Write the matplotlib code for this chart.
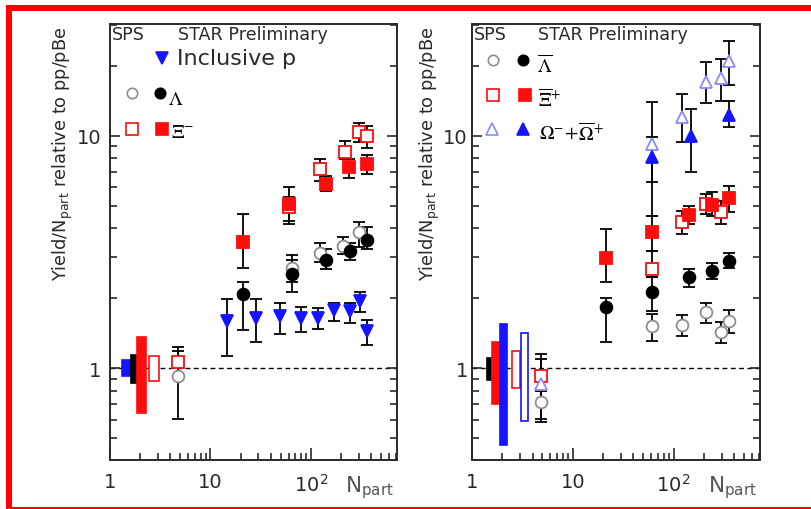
import numpy as np
import matplotlib
matplotlib.use("Agg")
import matplotlib.pyplot as plt
from matplotlib.patches import Rectangle
from matplotlib.lines import Line2D
from matplotlib.ticker import LogLocator, NullFormatter

# ---------------- data: left panel (SPS + STAR, p / Lambda / Xi-) ----------------
p_npart = [14.5, 28.2, 49.2, 79, 118, 171, 244, 307, 366]
p_yield = [1.60, 1.65, 1.67, 1.65, 1.65, 1.78, 1.76, 1.95, 1.45]
p_lo = [1.13, 1.29, 1.40, 1.43, 1.47, 1.60, 1.57, 1.74, 1.26]
p_hi = [1.98, 1.98, 1.90, 1.83, 1.81, 1.90, 1.90, 2.13, 1.61]

lam_f_npart = [21.2, 64.3, 143, 244, 362]
lam_f_yield = [2.08, 2.54, 2.92, 3.20, 3.57]
lam_f_lo = [1.46, 2.12, 2.67, 2.91, 3.25]
lam_f_hi = [2.34, 2.92, 3.25, 3.45, 4.05]

lam_o_npart = [4.8, 64.3, 123, 210, 300]
lam_o_yield = [0.926, 2.71, 3.13, 3.36, 3.87]
lam_o_lo = [0.603, 2.34, 2.85, 3.10, 3.32]
lam_o_hi = [1.19, 3.07, 3.45, 3.65, 4.26]

xi_f_npart = [21.2, 61.1, 143, 240, 362]
xi_f_yield = [3.48, 5.08, 6.23, 7.36, 7.6]
xi_f_lo = [2.69, 4.28, 5.76, 6.55, 6.84]
xi_f_hi = [4.60, 6.05, 6.72, 7.94, 8.29]

xi_o_npart = [4.8, 61.1, 123, 218, 303, 358]
xi_o_yield = [1.06, 4.92, 7.19, 8.53, 10.4, 10.0]
xi_o_lo = [0.912, 4.17, 6.40, 7.94, 9.38, 8.83]
xi_o_hi = [1.228, 5.43, 7.94, 9.46, 11.4, 11.0]

# normalisation uncertainty boxes (left): N from, N to, yield low, yield high
boxL_n0 = [1.31, 1.61, 1.87, 2.46]
boxL_n1 = [1.61, 1.85, 2.27, 3.09]
boxL_lo = [0.921, 0.862, 0.64, 0.88]
boxL_hi = [1.086, 1.137, 1.355, 1.13]

# ---------------- data: right panel (anti-Lambda / anti-Xi+ / Omega) ----------------
alam_f_npart = [21.3, 61.7, 143, 238, 351]
alam_f_yield = [1.84, 2.12, 2.46, 2.62, 2.90]
alam_f_lo = [1.29, 1.765, 2.225, 2.42, 2.69]
alam_f_hi = [1.995, 2.46, 2.67, 2.83, 3.13]

alam_o_npart = [4.81, 61.7, 122.5, 209, 295, 351]
alam_o_yield = [0.711, 1.52, 1.54, 1.74, 1.43, 1.60]
alam_o_lo = [0.584, 1.31, 1.377, 1.56, 1.277, 1.415]
alam_o_hi = [0.80, 1.71, 1.69, 1.905, 1.573, 1.78]

axi_f_npart = [21.3, 61.7, 143, 238, 351]
axi_f_yield = [2.98, 3.86, 4.57, 5.05, 5.39]
axi_f_lo = [2.35, 3.20, 4.17, 4.50, 4.72]
axi_f_hi = [3.97, 4.50, 4.97, 5.71, 6.09]

axi_o_npart = [4.81, 61.7, 122.5, 209, 295]
axi_o_yield = [0.926, 2.67, 4.26, 5.08, 4.72]
axi_o_lo = [0.799, 2.46, 3.78, 4.6, 4.17]
axi_o_hi = [1.149, 3.20, 4.75, 5.6, 5.25]

om_f_npart = [61.7, 149, 355]
om_f_yield = [8.08, 9.94, 12.3]
om_f_lo = [4.50, 7.0, 10.9]
om_f_hi = [14.0, 13.0, 14.1]

om_o_npart = [4.81, 61.7, 121, 209, 295, 355]
om_o_yield = [0.853, 9.22, 12.1, 17.1, 17.8, 21.1]
om_o_lo = [0.603, 6.3, 9.38, 13.8, 14.1, 16.5]
om_o_hi = [1.093, 9.84, 15.1, 20.7, 21.5, 25.5]

boxR_n0 = [1.40, 1.57, 1.88, 2.51, 3.04]
boxR_n1 = [1.59, 1.85, 2.24, 2.98, 3.63]
boxR_lo = [0.888, 0.70, 0.466, 0.818, 0.593]
boxR_hi = [1.11, 1.30, 1.55, 1.187, 1.41]

xtick_vals = [1, 10, 100]
xtick_labels = ["1", "10", "$10^2$"]
ytick_vals = [1, 10]
ytick_labels = ["1", "10"]

# ---------------- styling ----------------
RED = "#ff0d0d"
BLUE = "#1414ff"
LBLUE = "#8a8aff"
GRAY = "#8e8e8e"
INK = "#2a2a2a"

W, H = 811, 510
plt.rcParams["font.family"] = ["DejaVu Sans"]
fig = plt.figure(figsize=(W / 100, H / 100), dpi=100)
fig.patch.set_facecolor("white")


def fx(px):
    return px / W


def fy(py):
    return 1 - py / H


axL = fig.add_axes([fx(110), fy(461), (397 - 110) / W, (461 - 25) / H])
axR = fig.add_axes([fx(472), fy(461), (760 - 472) / W, (461 - 25) / H])


def setup(ax, ypad):
    ax.set_xscale("log")
    ax.set_yscale("log")
    ax.set_xlim(1, 720)
    ax.set_ylim(0.402, 30.3)
    ax.set_xticks(xtick_vals, labels=xtick_labels)
    ax.set_yticks(ytick_vals, labels=ytick_labels)
    ax.xaxis.set_minor_locator(LogLocator(base=10, subs=np.arange(2, 10)))
    ax.yaxis.set_minor_locator(LogLocator(base=10, subs=np.arange(2, 10)))
    ax.xaxis.set_minor_formatter(NullFormatter())
    ax.yaxis.set_minor_formatter(NullFormatter())
    ax.tick_params(which="both", direction="in", top=False, right=True,
                   color=INK, width=1.2, labelcolor=INK, labelsize=14)
    ax.tick_params(axis="x", which="major", length=9, pad=9)
    ax.tick_params(axis="x", which="minor", length=5)
    ax.tick_params(axis="y", which="major", length=7, pad=ypad)
    ax.tick_params(axis="y", which="minor", length=5)
    for s in ax.spines.values():
        s.set_color(INK)
        s.set_linewidth(1.4)
    ax.axhline(1.0, color="black", lw=1.0, ls=(0, (3.5, 2.5)), zorder=1)


def errs(y, lo, hi):
    y = np.asarray(y)
    return [y - np.asarray(lo), np.asarray(hi) - y]


def series(ax, n, y, lo, hi, marker, fc, ec, ms):
    ax.errorbar(n, y, yerr=errs(y, lo, hi), fmt="none", ecolor="black",
                elinewidth=1.3, capsize=4.5, capthick=1.3, zorder=3)
    ax.plot(n, y, ls="none", marker=marker, ms=ms, mfc=fc, mec=ec, mew=1.3,
            zorder=5 if fc != "white" else 4)


def boxes(ax, n0, n1, lo, hi, fcs, ecs):
    for a, b, l, h, fc, ec in zip(n0, n1, lo, hi, fcs, ecs):
        ax.add_patch(Rectangle((a, l), b - a, h - l, facecolor=fc,
                               edgecolor=ec, lw=1.2, zorder=2))


setup(axL, 6)
setup(axR, 3)

# left panel
boxes(axL, boxL_n0, boxL_n1, boxL_lo, boxL_hi,
      [BLUE, "black", RED, "white"], [BLUE, "black", RED, RED])
series(axL, p_npart, p_yield, p_lo, p_hi, "v", BLUE, BLUE, 9)
series(axL, lam_o_npart, lam_o_yield, lam_o_lo, lam_o_hi, "o", "white", GRAY, 8.5)
series(axL, lam_f_npart, lam_f_yield, lam_f_lo, lam_f_hi, "o", "black", "black", 8.5)
series(axL, xi_o_npart, xi_o_yield, xi_o_lo, xi_o_hi, "s", "white", RED, 9)
series(axL, xi_f_npart, xi_f_yield, xi_f_lo, xi_f_hi, "s", RED, RED, 9)

# right panel
boxes(axR, boxR_n0, boxR_n1, boxR_lo, boxR_hi,
      ["black", RED, BLUE, "white", "white"], ["black", RED, BLUE, RED, BLUE])
series(axR, alam_o_npart, alam_o_yield, alam_o_lo, alam_o_hi, "o", "white", GRAY, 8.5)
series(axR, alam_f_npart, alam_f_yield, alam_f_lo, alam_f_hi, "o", "black", "black", 8.5)
series(axR, axi_o_npart, axi_o_yield, axi_o_lo, axi_o_hi, "s", "white", RED, 9)
series(axR, axi_f_npart, axi_f_yield, axi_f_lo, axi_f_hi, "s", RED, RED, 9)
series(axR, om_o_npart, om_o_yield, om_o_lo, om_o_hi, "^", "white", LBLUE, 9)
series(axR, om_f_npart, om_f_yield, om_f_lo, om_f_hi, "^", BLUE, BLUE, 9)

# ---------------- labels ----------------
ylab = "Yield/N$_{\\mathregular{part}}$ relative to pp/pBe"
fig.text(fx(63), fy(27), ylab, rotation=90, ha="center", va="top",
         fontsize=12.8, color=INK)
fig.text(fx(430), fy(27), ylab, rotation=90, ha="center", va="top",
         fontsize=12.8, color=INK)

for nx in (345, 708):
    fig.text(fx(nx), fy(492), "N$_{\\mathregular{part}}$", ha="left",
             va="baseline", fontsize=15.5, color="#555555")

for sx, tx in ((112, 178), (474, 538)):
    fig.text(fx(sx), fy(40), "SPS", ha="left", va="baseline", fontsize=12.6, color=INK)
    fig.text(fx(tx), fy(40), "STAR Preliminary", ha="left", va="baseline",
             fontsize=12.6, color=INK)


def lmark(px, py, marker, fc, ec, ms):
    fig.add_artist(Line2D([fx(px)], [fy(py)], transform=fig.transFigure,
                          ls="none", marker=marker, ms=ms, mfc=fc, mec=ec,
                          mew=1.2, zorder=6))


# left legend
lmark(161.7, 59, "v", BLUE, BLUE, 8)
fig.text(fx(177), fy(65), "Inclusive p", ha="left", va="baseline", fontsize=16, color=INK)
lmark(131.7, 94, "o", "white", GRAY, 7.5)
lmark(160, 94, "o", "black", "black", 7.5)
fig.text(fx(168), fy(105), "$\\Lambda$", ha="left", va="baseline", fontsize=14,
         math_fontfamily="stix", color="black")
lmark(132.3, 130, "s", "white", RED, 8.5)
lmark(162, 130, "s", RED, RED, 8.5)
fig.text(fx(171), fy(138), "$\\Xi^{-}$", ha="left", va="baseline", fontsize=14,
         math_fontfamily="stix", color="black")

# right legend
lmark(493.3, 61, "o", "white", GRAY, 7.5)
lmark(523.3, 61, "o", "black", "black", 7.5)
fig.text(fx(537), fy(73), "$\\overline{\\Lambda}$", ha="left", va="baseline",
         fontsize=14, math_fontfamily="stix", color="black")
lmark(493.3, 96, "s", "white", RED, 8.5)
lmark(525, 96, "s", RED, RED, 8.5)
fig.text(fx(538), fy(107), "$\\overline{\\Xi}^{+}$", ha="left", va="baseline",
         fontsize=14, math_fontfamily="stix", color="black")
lmark(492.3, 130, "^", "white", LBLUE, 8)
lmark(522.7, 130, "^", BLUE, BLUE, 8)
fig.text(fx(539), fy(140), "$\\Omega^{-}\\!+\\!\\overline{\\Omega}^{+}$", ha="left",
         va="baseline", fontsize=14, math_fontfamily="stix", color="black")

# ---------------- red frame ----------------
fig.add_artist(Rectangle((fx(6), fy(11.7)), 1 - fx(6), (11.7 - 6) / H,
                         transform=fig.transFigure, color="#ff0000", lw=0))
fig.add_artist(Rectangle((fx(6), fy(510)), (11.7 - 6) / W, (510 - 6) / H,
                         transform=fig.transFigure, color="#ff0000", lw=0))
fig.add_artist(Rectangle((fx(6), 0), 1 - fx(6), 2.2 / H,
                         transform=fig.transFigure, color="#ff0000", lw=0))

fig.savefig("out.png", dpi=100, facecolor="white")
